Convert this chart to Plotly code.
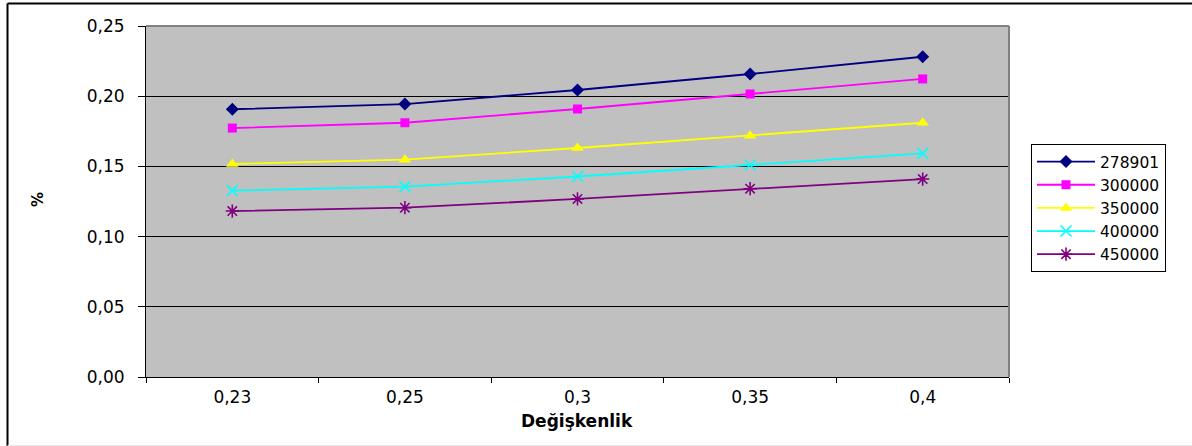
import plotly.graph_objects as go

categories = ["0,23", "0,25", "0,3", "0,35", "0,4"]
series_names = ["278901", "300000", "350000", "400000", "450000"]
s_278901 = [0.1907, 0.1944, 0.2044, 0.2158, 0.2281]
s_300000 = [0.1773, 0.1811, 0.1909, 0.2016, 0.2123]
s_350000 = [0.1517, 0.1548, 0.1631, 0.1719, 0.1811]
s_400000 = [0.1327, 0.1356, 0.1428, 0.1510, 0.1593]
s_450000 = [0.1182, 0.1206, 0.1268, 0.1341, 0.1410]
y_ticks = [0.0, 0.05, 0.10, 0.15, 0.20, 0.25]

series_values = [s_278901, s_300000, s_350000, s_400000, s_450000]
colors = ["#000080", "#FF00FF", "#FFFF00", "#00FFFF", "#800080"]
symbols = ["diamond", "square", "triangle-up", "x-thin-open", "asterisk-open"]
sizes = [10, 9, 11, 11, 11]

FONT = "DejaVu Sans"

fig = go.Figure()
for i, (name, vals) in enumerate(zip(series_names, series_values)):
    mk = dict(symbol=symbols[i], size=sizes[i], color=colors[i])
    if symbols[i].endswith("open"):
        mk["line"] = dict(color=colors[i], width=1.6)
    else:
        mk["line"] = dict(width=0)
    fig.add_trace(go.Scatter(
        x=categories, y=vals, name=name, mode="lines+markers",
        line=dict(color=colors[i], width=1.8),
        marker=mk,
    ))

L, R, T, B = 146, 1009, 26, 377
W, H = 1192, 446

def px(xp):
    return (xp - L) / (R - L)

def py(yp):
    return (B - yp) / (B - T)

fig.update_layout(
    width=W, height=H,
    margin=dict(l=L, r=W - R, t=T, b=H - B, pad=0),
    paper_bgcolor="white",
    plot_bgcolor="#C0C0C0",
    separators=",.",
    font=dict(family=FONT, size=17, color="black"),
    showlegend=True,
    legend=dict(
        x=px(1031), y=py(144), xanchor="left", yanchor="top",
        bgcolor="white", bordercolor="black", borderwidth=1,
        font=dict(family=FONT, size=15.5, color="black"),
        itemwidth=58,
    ),
    xaxis=dict(
        type="category", range=[-0.5, 4.5],
        showgrid=False, showline=True, linecolor="black", linewidth=1,
        ticks="outside", ticklen=5, tickcolor="black", tickson="boundaries",
        tickfont=dict(family=FONT, size=17),
        ticklabelstandoff=5,
        zeroline=False,
    ),
    yaxis=dict(
        range=[0, 0.25], tickvals=y_ticks, tickformat=".2f",
        showgrid=True, gridcolor="#000000", gridwidth=1,
        showline=True, linecolor="black", linewidth=1,
        ticks="outside", ticklen=7, tickcolor="black",
        tickfont=dict(family=FONT, size=17),
        ticklabelstandoff=10,
        zeroline=False,
    ),
    annotations=[
        dict(text="<b>Değişkenlik</b>", xref="paper", yref="paper",
             x=px(577), y=py(421), xanchor="center", yanchor="middle",
             showarrow=False, font=dict(family=FONT, size=17)),
        dict(text="<b>%</b>", xref="paper", yref="paper",
             x=px(38), y=py(200), xanchor="center", yanchor="middle",
             textangle=-90, showarrow=False, font=dict(family=FONT, size=15)),
    ],
    shapes=[
        # plot area border top and right (grey)
        dict(type="line", xref="paper", yref="paper", x0=0, x1=1, y0=1, y1=1,
             line=dict(color="#808080", width=2), layer="above"),
        dict(type="line", xref="paper", yref="paper", x0=1, x1=1, y0=0, y1=1,
             line=dict(color="#808080", width=2), layer="above"),
        # outer chart border
        dict(type="line", xref="paper", yref="paper", x0=px(7.5), x1=px(1200),
             y0=py(3.5), y1=py(3.5), line=dict(color="black", width=2)),
        dict(type="line", xref="paper", yref="paper", x0=px(7.5), x1=px(7.5),
             y0=py(3.5), y1=py(450), line=dict(color="black", width=2)),
        dict(type="line", xref="paper", yref="paper", x0=px(7.5), x1=px(1200),
             y0=py(445.5), y1=py(445.5), line=dict(color="#E8E8E8", width=1)),
    ],
)

fig.write_html("out.html")
